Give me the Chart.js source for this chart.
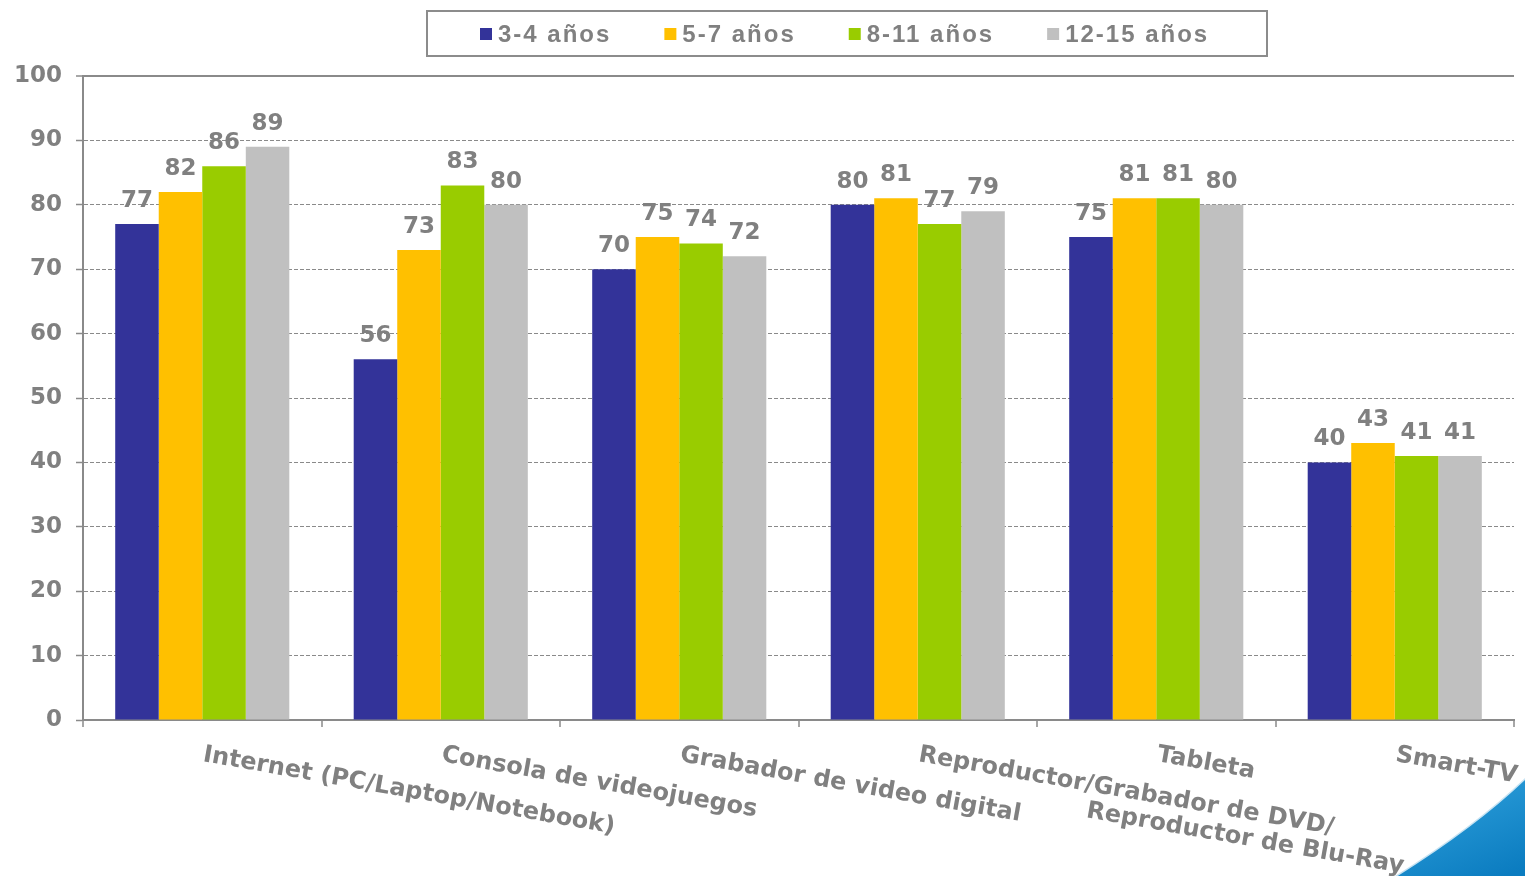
<!DOCTYPE html>
<html>
<head>
<meta charset="utf-8">
<script src="https://cdn.jsdelivr.net/npm/chart.js@4.4.1/dist/chart.umd.min.js"></script>
<style>
html,body{margin:0;padding:0;background:#ffffff;overflow:hidden}
#wrap{position:relative;width:1525px;height:876px}
canvas{display:block}
</style>
</head>
<body>
<div id="wrap"><canvas id="c" width="1525" height="876"></canvas></div>
<script>
// ---------- DATA ----------
const categories = [
  ["Internet (PC/Laptop/Notebook)"],
  ["Consola de videojuegos"],
  ["Grabador de video digital"],
  ["Reproductor/Grabador de DVD/", "Reproductor de Blu-Ray"],
  ["Tableta"],
  ["Smart-TV"]
];
const seriesNames = ["3-4 años", "5-7 años", "8-11 años", "12-15 años"];
const age3to4   = [77, 56, 70, 80, 75, 40];
const age5to7   = [82, 73, 75, 81, 81, 43];
const age8to11  = [86, 83, 74, 77, 81, 41];
const age12to15 = [89, 80, 72, 79, 80, 41];
const yTickValues = [0, 10, 20, 30, 40, 50, 60, 70, 80, 90, 100];

// ---------- STYLE ----------
const seriesColors = ["#333399", "#FFC000", "#99CC00", "#C0C0C0"];
const TEXT = "#808080";
const AXIS = "#8a8a8a";
const NUM_FONT = "bold 23px 'DejaVu Sans'";
const CAT_FONT = "bold 24px 'DejaVu Sans'";
const LEG_FONT = "bold 24px 'Liberation Sans'";

const seriesValues = [age3to4, age5to7, age8to11, age12to15];

const decor = {
  id: 'decor',
  beforeDraw(chart) {
    const ctx = chart.ctx;
    const W = chart.width, H = chart.height;
    // decorative blue swoosh in the lower-right corner
    ctx.save();
    const g = ctx.createLinearGradient(W - 60, H - 100, W - 20, H);
    g.addColorStop(0, '#2b9dd9');
    g.addColorStop(1, '#0b7cc0');
    ctx.beginPath();
    ctx.moveTo(W - 130, H);
    ctx.quadraticCurveTo(W - 50, H - 50, W, H - 98);
    ctx.lineTo(W, H);
    ctx.closePath();
    ctx.fillStyle = g;
    ctx.fill();
    ctx.beginPath();
    ctx.moveTo(W - 130, H);
    ctx.quadraticCurveTo(W - 50, H - 50, W, H - 98);
    ctx.strokeStyle = 'rgba(255,255,255,0.75)';
    ctx.lineWidth = 3;
    ctx.stroke();
    ctx.restore();
  },
  afterDatasetsDraw(chart) {
    const ctx = chart.ctx;
    ctx.save();
    ctx.font = NUM_FONT;
    ctx.fillStyle = TEXT;
    ctx.textAlign = 'center';
    ctx.textBaseline = 'alphabetic';
    chart.data.datasets.forEach((ds, di) => {
      const meta = chart.getDatasetMeta(di);
      meta.data.forEach((bar, i) => {
        ctx.fillText(String(ds.data[i]), bar.x, bar.y - 17);
      });
    });
    ctx.restore();
  },
  afterDraw(chart) {
    const ctx = chart.ctx;
    const xs = chart.scales.x;
    // rotated category labels (clockwise, starting at category centre)
    ctx.save();
    ctx.font = CAT_FONT;
    ctx.fillStyle = TEXT;
    ctx.textAlign = 'left';
    ctx.textBaseline = 'alphabetic';
    const ang = 10 * Math.PI / 180;
    const baseY = chart.chartArea.bottom + 41;
    categories.forEach((lines, i) => {
      const cx = xs.getPixelForValue(i);
      ctx.save();
      ctx.translate(cx, baseY);
      ctx.rotate(ang);
      lines.forEach((ln, k) => {
        ctx.fillText(ln, k === 0 ? 0 : 175, k * 26);
      });
      ctx.restore();
    });
    ctx.restore();

    // legend with frame
    ctx.save();
    ctx.font = LEG_FONT;
    if ('letterSpacing' in ctx) ctx.letterSpacing = '2px';
    ctx.textBaseline = 'alphabetic';
    ctx.textAlign = 'left';
    let x = 480;
    const boxTop = 28, boxSize = 12, textBase = 42;
    let lastEnd = x;
    chart.data.datasets.forEach((ds, di) => {
      ctx.fillStyle = ds.backgroundColor;
      ctx.fillRect(x, boxTop, boxSize, boxSize);
      ctx.fillStyle = TEXT;
      ctx.fillText(ds.label, x + 18, textBase);
      const w = ctx.measureText(ds.label).width;
      lastEnd = x + 18 + w;
      x = lastEnd + 53;
    });
    ctx.restore();
    ctx.save();
    ctx.strokeStyle = '#8c8c8c';
    ctx.lineWidth = 2;
    ctx.strokeRect(427, 11, Math.max(840, lastEnd + 42 - 427), 45);
    ctx.restore();
  }
};

const chart = new Chart(document.getElementById('c'), {
  type: 'bar',
  data: {
    labels: categories,
    datasets: seriesNames.map((name, k) => ({
      label: name,
      data: seriesValues[k],
      backgroundColor: seriesColors[k],
      borderWidth: 0,
      categoryPercentage: 0.73,
      barPercentage: 1.0
    }))
  },
  options: {
    responsive: false,
    animation: false,
    devicePixelRatio: 1,
    layout: { padding: { top: 76, right: 11, bottom: 149, left: 0 } },
    plugins: {
      legend: { display: false },
      tooltip: { enabled: false }
    },
    scales: {
      x: {
        offset: true,
        grid: {
          offset: true,
          drawOnChartArea: true,
          color: (c) => c.index === categories.length ? AXIS : 'rgba(0,0,0,0)',
          lineWidth: 2,
          tickColor: AXIS,
          tickWidth: 1.5,
          tickLength: 7,
          drawTicks: true
        },
        border: { display: true, color: AXIS, width: 2 },
        ticks: { display: false }
      },
      y: {
        min: 0,
        max: 100,
        afterBuildTicks: (s) => { s.ticks = yTickValues.map(v => ({ value: v })); },
        grid: {
          color: (c) => c.tick && c.tick.value === 0 ? 'rgba(0,0,0,0)' : AXIS,
          lineWidth: (c) => c.tick && c.tick.value === 100 ? 2 : 1,
          tickColor: AXIS,
          tickWidth: 1.5,
          tickLength: 7,
          drawTicks: true
        },
        border: {
          display: true, color: AXIS, width: 2,
          dash: (c) => c.tick && c.tick.value === 100 ? [] : [4, 2]
        },
        ticks: {
          color: TEXT,
          padding: 14,
          font: { family: 'DejaVu Sans', weight: 'bold', size: 23 }
        }
      }
    }
  },
  plugins: [decor]
});
</script>
</body>
</html>
